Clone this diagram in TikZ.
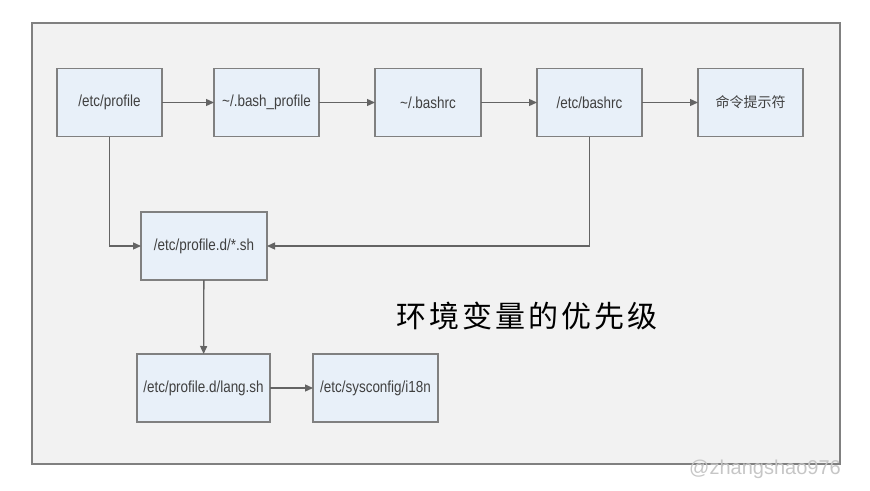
\documentclass[tikz,border=0pt]{standalone}
\usepackage{fontspec}
\setmainfont{Liberation Sans}
\newfontfamily\boxfont[FakeStretch=0.84]{Liberation Sans}
\newfontfamily\cjk{Noto Sans CJK SC}
\newfontfamily\cjktitel[LetterSpace=10]{Noto Sans CJK SC}
\usetikzlibrary{arrows.meta}
\definecolor{boxblau}{RGB}{232,240,249}
\definecolor{boxrand}{RGB}{128,128,128}
\definecolor{pfeilgrau}{RGB}{100,100,100}
\definecolor{rahmengrau}{RGB}{242,242,242}

\begin{document}
\begin{tikzpicture}[x=1pt, y=-1pt,
  datei/.style={draw=boxrand, fill=boxblau, line width=1.2pt, inner sep=0pt, outer sep=0pt,
    minimum height=68pt, text=black!75, font=\boxfont\fontsize{16}{18}\selectfont},
  pfeil/.style={draw=pfeilgrau, line width=1.3pt, -{Triangle[length=8pt,width=7pt]}}]

  \useasboundingbox (0,0) rectangle (870,490);

  % Rahmen
  \draw[draw=boxrand, line width=1.5pt, fill=rahmengrau] (32,23) rectangle (840,464);

  % Obere Reihe
  \node[datei, minimum width=105pt] (profile) at (109.5,102.5) {/etc/profile};
  \node[datei, minimum width=105pt] (bashprofile) at (266.5,102.5) {\textasciitilde/.bash\_profile};
  \node[datei, minimum width=106pt] (bashrc) at (428,102.5) {\textasciitilde/.bashrc};
  \node[datei, minimum width=105pt] (etcbashrc) at (589.5,102.5) {/etc/bashrc};
  \node[datei, minimum width=105pt, font=\cjk\fontsize{14}{16}\selectfont] (prompt) at (750.5,102.5) {命令提示符};

  % Untere Dateien
  \node[datei, minimum width=126pt] (profiled) at (204,246) {/etc/profile.d/*.sh};
  \node[datei, minimum width=133pt] (langsh) at (203.5,388) {/etc/profile.d/lang.sh};
  \node[datei, minimum width=125pt] (ieighteen) at (375.5,388) {/etc/sysconfig/i18n};

  % Pfeile
  \draw[pfeil] (profile) -- (bashprofile);
  \draw[pfeil] (bashprofile) -- (bashrc);
  \draw[pfeil] (bashrc) -- (etcbashrc);
  \draw[pfeil] (etcbashrc) -- (prompt);
  \draw[pfeil] (profile.south) |- (profiled.west);
  \draw[pfeil] (etcbashrc.south) |- (profiled.east);
  \draw[pfeil] (profiled) -- (langsh);
  \draw[pfeil] (langsh) -- (ieighteen);

  % Titel
  \node (titel) at (527,316) {\cjktitel\fontsize{30}{32}\selectfont 环境变量的优先级};

  % Wasserzeichen
  \node[text=gray!45, font=\fontsize{20}{22}\selectfont] (wasserzeichen) at (765,469) {@zhangshao976};

\end{tikzpicture}
\end{document}
